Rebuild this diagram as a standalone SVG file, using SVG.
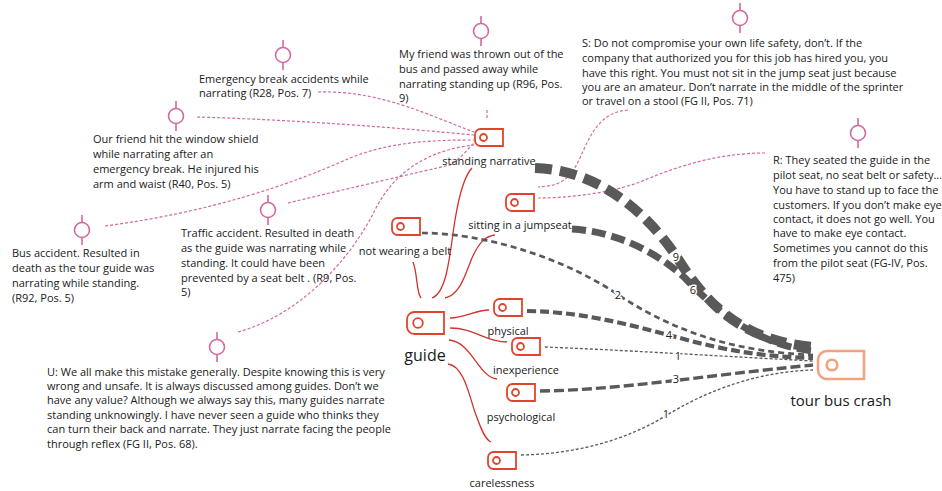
<svg xmlns="http://www.w3.org/2000/svg" xmlns:xlink="http://www.w3.org/1999/xlink" width="942" height="491" viewBox="0 0 942 491">
  <style>
    text { font-family: "Open Sans", "Noto Sans", "Liberation Sans", sans-serif; fill: #1a1a1a; }
    .q { font-size: 11px; }
    .lbl { font-size: 11px; text-anchor: middle; }
    .big { font-size: 15px; text-anchor: middle; }
    .num { font-size: 11px; text-anchor: middle; fill: #222; stroke: #fff; stroke-width: 3px; paint-order: stroke; }
    .qi line, .qi circle { stroke: #d4689e; stroke-width: 1.6; fill: #fff; }
    .tag { fill: #fff; stroke: #e0442d; stroke-width: 1.8; }
    .link { fill: none; stroke: #d4689e; stroke-width: 1.2; stroke-dasharray: 3 2; }
    .own { fill: none; stroke: #d2322d; stroke-width: 1.3; }
    .rel { fill: none; stroke: #595959; }
    .w9 { stroke-width: 10; stroke-dasharray: 17 8; }
    .w6 { stroke-width: 7; stroke-dasharray: 14 6; }
    .w4 { stroke-width: 4.2; stroke-dasharray: 9 4; }
    .w3 { stroke-width: 3.4; stroke-dasharray: 10 4; }
    .w2 { stroke-width: 2.7; stroke-dasharray: 6 4; }
    .w1 { stroke-width: 1.3; stroke-dasharray: 3 2; }
  </style>
  <defs>
    <!-- memo/quote marker: ring on a short vertical stem -->
    <g id="quote" class="qi">
      <line x1="0" y1="-15" x2="0" y2="15"/>
      <circle r="7.5"/>
    </g>
    <!-- code tag, small -->
    <g id="tagS" class="tag">
      <path d="M5.5,0H28V17H5.5A5.5,5.5 0 0 1 0,11.5V5.5A5.5,5.5 0 0 1 5.5,0Z"/>
      <circle cx="8.5" cy="8.5" r="3.5"/>
    </g>
  </defs>

  <rect width="942" height="491" fill="#fff"/>

  <g id="connectors">
    <!-- quotes to codes -->
    <g id="quote-links">
      <path class="link" d="M318,92 C380,90 430,116 474,132"/>
      <path class="link" d="M197,117 C300,120 400,128 474,135"/>
      <path class="link" d="M105,226 C210,212 290,185 350,158 C390,142 430,140 474,140"/>
      <path class="link" d="M288,203 C350,188 420,172 450,165 C462,158 468,148 474,143"/>
      <path class="link" d="M238,332 C300,315 350,260 375,210 C395,170 430,150 474,145"/>
      <path class="link" d="M487,110 V120"/>
      <path class="link" d="M628,110 C600,112 590,135 580,158 C570,180 560,186 538,187"/>
      <path class="link" d="M765,153 C720,153 680,165 640,182 C610,193 570,198 538,198"/>
    </g>
    <!-- guide to its subcodes -->
    <g id="code-tree">
      <path class="own" d="M432,298 C448,292 450,250 455,220 C460,190 465,175 472,168"/>
      <path class="own" d="M445,298 C460,295 465,275 472,258 C480,240 487,236 495,235"/>
      <path class="own" d="M413,262 C418,275 416,292 421,298"/>
      <path class="own" d="M450,318 C465,318 475,310 489,310"/>
      <path class="own" d="M450,328 C475,328 485,342 507,342"/>
      <path class="own" d="M449,340 C472,342 478,377 497,379"/>
      <path class="own" d="M448,364 C465,366 470,400 476,415 C482,432 486,440 491,442"/>
    </g>
    <!-- weighted relations to tour bus crash -->
    <g id="relations">
      <path class="rel w9" d="M535,168 C600,170 650,215 680,262 C712,312 750,342 815,347"/>
      <path class="rel w6" d="M572,229 C620,232 660,255 685,278 C720,315 760,345 813,351"/>
      <path class="rel w2" d="M422,233 C480,233 560,255 620,296 C680,335 740,352 813,355"/>
      <path class="rel w4" d="M527,311 C590,312 640,328 680,338 C730,352 770,357 813,358"/>
      <path class="rel w1" d="M545,347 C620,350 700,355 813,361"/>
      <path class="rel w3" d="M540,391 C620,390 700,376 813,365"/>
      <path class="rel w1" d="M521,455 C580,454 630,438 667,415 C700,395 750,372 813,370"/>
      <text class="num" x="676" y="261">9</text>
      <text class="num" x="693" y="294">6</text>
      <text class="num" x="618" y="299">2</text>
      <text class="num" x="669" y="339">4</text>
      <text class="num" x="678" y="360">1</text>
      <text class="num" x="676" y="383">3</text>
      <text class="num" x="666" y="418">1</text>
    </g>
  </g>

  <g id="q-emergency">
    <use href="#quote" x="283" y="55"/>
    <text class="q" x="199" y="83">Emergency break accidents while</text>
    <text class="q" x="199" y="97">narrating (R28, Pos. 7)</text>
  </g>
  <g id="q-window">
    <use href="#quote" x="176" y="116"/>
    <text class="q" x="93" y="143">Our friend hit the window shield</text>
    <text class="q" x="93" y="158">while narrating after an</text>
    <text class="q" x="93" y="173">emergency break. He injured his</text>
    <text class="q" x="93" y="188">arm and waist (R40, Pos. 5)</text>
  </g>
  <g id="q-bus">
    <use href="#quote" x="82" y="230"/>
    <text class="q" x="12" y="257">Bus accident. Resulted in</text>
    <text class="q" x="12" y="272">death as the tour guide was</text>
    <text class="q" x="12" y="287">narrating while standing.</text>
    <text class="q" x="12" y="302">(R92, Pos. 5)</text>
  </g>
  <g id="q-traffic">
    <use href="#quote" x="268" y="210"/>
    <text class="q" x="181" y="237">Traffic accident. Resulted in death</text>
    <text class="q" x="181" y="252">as the guide was narrating while</text>
    <text class="q" x="181" y="267">standing. It could have been</text>
    <text class="q" x="181" y="282">prevented by a seat belt . (R9, Pos.</text>
    <text class="q" x="181" y="296">5)</text>
  </g>
  <g id="q-mistake">
    <use href="#quote" x="217" y="347"/>
    <text class="q" x="47" y="376">U: We all make this mistake generally. Despite knowing this is very</text>
    <text class="q" x="47" y="390">wrong and unsafe. It is always discussed among guides. Don’t we</text>
    <text class="q" x="47" y="404">have any value? Although we always say this, many guides narrate</text>
    <text class="q" x="47" y="419">standing unknowingly. I have never seen a guide who thinks they</text>
    <text class="q" x="47" y="433">can turn their back and narrate. They just narrate facing the people</text>
    <text class="q" x="47" y="448">through reflex (FG II, Pos. 68).</text>
  </g>
  <g id="q-thrown">
    <use href="#quote" x="481" y="31"/>
    <text class="q" x="399" y="58">My friend was thrown out of the</text>
    <text class="q" x="399" y="73">bus and passed away while</text>
    <text class="q" x="399" y="88">narrating standing up (R96, Pos.</text>
    <text class="q" x="399" y="102">9)</text>
  </g>
  <g id="q-safety">
    <use href="#quote" x="740" y="18"/>
    <text class="q" x="582" y="47">S: Do not compromise your own life safety, don’t. If the</text>
    <text class="q" x="582" y="62">company that authorized you for this job has hired you, you</text>
    <text class="q" x="582" y="77">have this right. You must not sit in the jump seat just because</text>
    <text class="q" x="582" y="91">you are an amateur. Don’t narrate in the middle of the sprinter</text>
    <text class="q" x="582" y="105">or travel on a stool (FG II, Pos. 71)</text>
  </g>
  <g id="q-pilot">
    <use href="#quote" x="858" y="133"/>
    <text class="q" x="773" y="164">R: They seated the guide in the</text>
    <text class="q" x="773" y="179">pilot seat, no seat belt or safety...</text>
    <text class="q" x="773" y="194">You have to stand up to face the</text>
    <text class="q" x="773" y="209">customers. If you don’t make eye</text>
    <text class="q" x="773" y="223">contact, it does not go well. You</text>
    <text class="q" x="773" y="237">have to make eye contact.</text>
    <text class="q" x="773" y="252">Sometimes you cannot do this</text>
    <text class="q" x="773" y="267">from the pilot seat (FG-IV, Pos.</text>
    <text class="q" x="773" y="282">475)</text>
  </g>

  <g id="c-standing">
    <use href="#tagS" x="475" y="129"/>
    <text class="lbl" x="489" y="165">standing narrative</text>
  </g>
  <g id="c-jumpseat">
    <use href="#tagS" x="506" y="194"/>
    <text class="lbl" x="520" y="229">sitting in a jumpseat</text>
  </g>
  <g id="c-belt">
    <use href="#tagS" x="392" y="218"/>
    <text class="lbl" x="405" y="255">not wearing a belt</text>
  </g>
  <g id="c-guide">
    <path class="tag" stroke-width="2.2" d="M414.5,312H444V334H414.5A7.5,7.5 0 0 1 407,326.5V319.5A7.5,7.5 0 0 1 414.5,312Z"/>
    <circle class="tag" stroke-width="2.2" cx="418" cy="323" r="4.8"/>
    <text class="big" x="425" y="361" style="font-size:16px">guide</text>
  </g>
  <g id="c-physical">
    <use href="#tagS" x="494" y="299"/>
    <text class="lbl" x="508" y="335">physical</text>
  </g>
  <g id="c-inexperience">
    <use href="#tagS" x="512" y="338"/>
    <text class="lbl" x="526" y="374">inexperience</text>
  </g>
  <g id="c-psychological">
    <use href="#tagS" x="507" y="384"/>
    <text class="lbl" x="521" y="421">psychological</text>
  </g>
  <g id="c-carelessness">
    <use href="#tagS" x="488" y="452"/>
    <text class="lbl" x="502" y="487">carelessness</text>
  </g>
  <g id="c-crash">
    <path fill="#fff" stroke="#f4a27e" stroke-width="2.6" d="M827,351H864V379H827A9,9 0 0 1 818,370V360A9,9 0 0 1 827,351Z"/>
    <circle fill="#fff" stroke="#f4a27e" stroke-width="2.6" cx="832" cy="365" r="5.3"/>
    <text class="big" x="841" y="406">tour bus crash</text>
  </g>
</svg>
